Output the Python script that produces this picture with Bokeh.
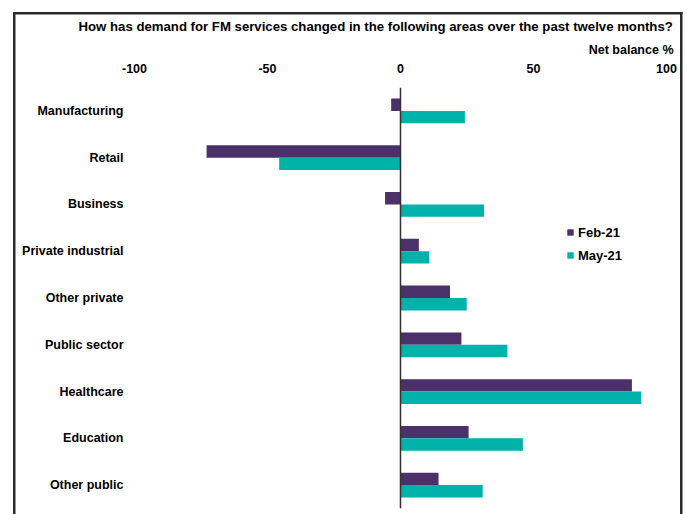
from bokeh.plotting import figure
from bokeh.models import (FactorRange, Range1d, FixedTicker, Span,
                          Title, Legend, LegendItem, ColumnDataSource,
                          InlineStyleSheet, CustomJSTickFormatter)
from bokeh.transform import dodge
from bokeh.embed import file_html
from bokeh.resources import INLINE

# ---- data ----
categories = ["Manufacturing", "Retail", "Business", "Private industrial",
              "Other private", "Public sector", "Healthcare", "Education",
              "Other public"]
feb21 = [-3.5, -72.9, -5.8, 6.9, 18.6, 22.9, 87.0, 25.6, 14.3]
may21 = [24.2, -45.6, 31.4, 10.8, 24.9, 40.2, 90.5, 46.0, 30.9]
x_ticks = [-100, -50, 0, 50, 100]
series_names = ["Feb-21", "May-21"]
series_colors = ["#4B3069", "#00B2A9"]
title_text = "How has demand for FM services changed in the following areas over the past twelve months?"
unit_text = "Net balance %"

FONT = "Liberation Sans"

source = ColumnDataSource(dict(cat=categories, feb=feb21, may=may21))

p = figure(width=687, height=514,
           y_range=FactorRange(factors=list(reversed(categories)), range_padding=0),
           x_range=Range1d(-100, 100),
           x_axis_location="above",
           output_backend="svg", toolbar_location=None,
           min_border_left=134, min_border_right=21,
           min_border_top=87, min_border_bottom=6)

bar_h = 0.265
r1 = p.hbar(y=dodge("cat", bar_h / 2, range=p.y_range), left=0, right="feb",
            height=bar_h, source=source, fill_color=series_colors[0],
            line_color=None)
r2 = p.hbar(y=dodge("cat", -bar_h / 2, range=p.y_range), left=0, right="may",
            height=bar_h, source=source, fill_color=series_colors[1],
            line_color=None)

# axes
p.xaxis.ticker = FixedTicker(ticks=x_ticks)
p.xaxis.formatter = CustomJSTickFormatter(code="return tick.toFixed(0);")
for ax in (p.xaxis, p.yaxis):
    ax.axis_line_color = None
    ax.major_tick_line_color = None
    ax.minor_tick_line_color = None
    ax.major_tick_out = 0
    ax.major_tick_in = 0
    ax.major_label_text_font = FONT
    ax.major_label_text_font_style = "bold"
    ax.major_label_text_font_size = "12.5px"
    ax.major_label_text_color = "#000000"
p.xaxis.major_label_standoff = 15
p.yaxis.major_label_standoff = 11

p.xgrid.visible = False
p.ygrid.visible = False
p.outline_line_color = None
p.background_fill_color = None
p.border_fill_color = None

p.add_layout(Span(location=0, dimension="height", line_color="#333333",
                  line_width=1.5))

# titles
unit_title = Title(text=unit_text, align="right", offset=-7,
                   text_font=FONT, text_font_style="bold",
                   text_font_size="12.5px", text_color="#000000", standoff=8)
p.add_layout(unit_title, "above")
p.title = Title(text=title_text, align="left", offset=-56,
                text_font=FONT, text_font_style="bold",
                text_font_size="13.2px", text_color="#000000", standoff=6)

# legend
legend = Legend(items=[LegendItem(label=series_names[0], renderers=[r1]),
                       LegendItem(label=series_names[1], renderers=[r2])],
                location=(432, 243), orientation="vertical",
                padding=0, spacing=3, margin=0,
                glyph_width=8, glyph_height=8, label_height=20,
                label_standoff=4, label_text_font=FONT,
                label_text_font_style="bold", label_text_font_size="13px",
                label_text_color="#000000",
                border_line_color=None, background_fill_alpha=0)
p.add_layout(legend, "center")

# outer frame drawn as the page background behind the transparent canvas
frame_css = """
:host {
  background:
    linear-gradient(#2b2b2b, #2b2b2b) 13px 12px / 2.5px 600px no-repeat,
    linear-gradient(#2b2b2b, #2b2b2b) 13px 12px / 669.5px 2.5px no-repeat,
    linear-gradient(#2b2b2b, #2b2b2b) 680px 12px / 2.5px 600px no-repeat,
    #ffffff;
}
"""
p.stylesheets = [InlineStyleSheet(css=frame_css)]

open("out.html", "w").write(file_html(p, INLINE))
